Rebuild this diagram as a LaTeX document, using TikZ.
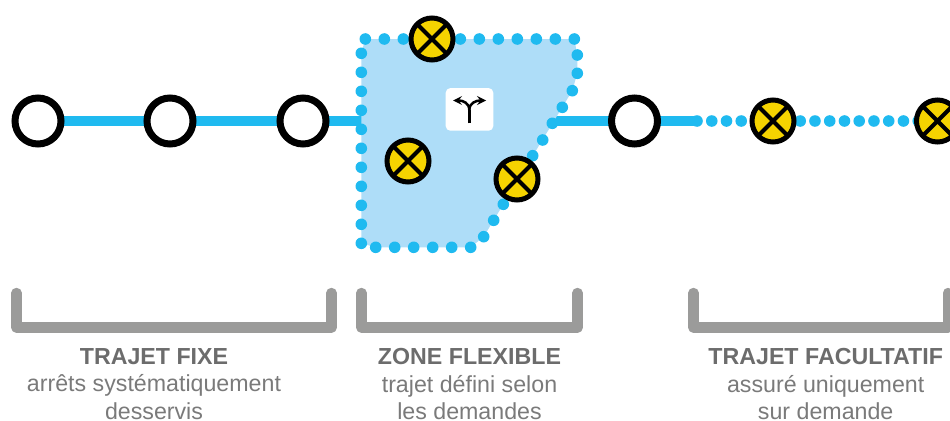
\documentclass[tikz,border=0pt]{standalone}
\usepackage{fontspec}
\setmainfont{Liberation Sans}
\usetikzlibrary{backgrounds}
\definecolor{routeblue}{RGB}{31,186,240}
\definecolor{zoneblue}{RGB}{174,221,248}
\definecolor{stopyellow}{RGB}{245,211,0}
\definecolor{bracketgrey}{RGB}{155,155,154}
\definecolor{headgrey}{RGB}{108,108,108}
\definecolor{textgrey}{RGB}{122,122,122}
\tikzset{
  plainstop/.style={circle,draw=black,fill=white,line width=5.25pt,minimum size=34.5pt,inner sep=0pt,outer sep=0pt},
  flexstop/.style={circle,draw=black,fill=stopyellow,line width=3.75pt,minimum size=31.5pt,inner sep=0pt,outer sep=0pt,
    path picture={\draw[black,line width=3pt] (path picture bounding box.south west) -- (path picture bounding box.north east) (path picture bounding box.north west) -- (path picture bounding box.south east);}},
  route/.style={routeblue,line width=7.5pt,line cap=round},
  dotroute/.style={routeblue,line width=8.7pt,line cap=round,dash pattern=on 0pt off 11.06pt},
  bracket/.style={bracketgrey,line width=7.8pt,line cap=round,line join=round},
  caption/.style={anchor=north,align=center,inner sep=0.75pt,text=textgrey,font=\fontsize{17.4}{20.7}\selectfont},
  turnbox/.style={fill=white,rounded corners=3.5pt,minimum width=35.7pt,minimum height=32pt,inner sep=0pt},
  turnarrow/.style={black,line width=1.9pt,-stealth}
}
\newcommand{\caphead}[1]{{\bfseries\color{headgrey}#1}}
\begin{document}
\begin{tikzpicture}[x=0.75pt,y=0.75pt,yscale=-1,xscale=1]
\useasboundingbox (0,0) rectangle (950,421);

% Stops
\node [plainstop] (stopA) at (38,121) {};
\node [plainstop] (stopB) at (170,121) {};
\node [plainstop] (stopC) at (303,121) {};
\node [plainstop] (stopD) at (634.5,121) {};
\node [flexstop] (stopE) at (773,121) {};
\node [flexstop] (stopF) at (937.5,121) {};
\node [flexstop] (zoneA) at (432,39) {};
\node [flexstop] (zoneB) at (408,161) {};
\node [flexstop] (zoneC) at (517,179) {};
\coordinate (zoneW) at (361,121);
\coordinate (zoneE) at (555,121);
\coordinate (routeEnd) at (697,121);

\begin{pgfonlayer}{background}
% Routes
\draw [route] (stopA.center) -- (stopB.center);
\draw [route] (stopB.center) -- (stopC.center);
\draw [route] (stopC.center) -- (zoneW);
\draw [route] (zoneE) -- (stopD.center);
\draw [route] (stopD.center) -- (routeEnd);
\draw [dotroute] (routeEnd) -- (stopE.center);
\draw [dotroute,dash phase=1.69pt] (stopE.center) -- (stopF.center);
%Shape: Zone
\fill [zoneblue] (365.3,39) -- (574.3,39) -- (577.3,55) -- (577.3,73.3) -- (572.3,90.7) -- (483.7,236.7) -- (470.7,247.3) -- (375.7,247.3) -- (361.3,243.3) -- (361.3,53.3) -- cycle;
\foreach \dotx in {365.3,384.3,...,574.5} \fill [routeblue] (\dotx,39) circle (5.8);
\foreach \doty in {53.3,72.3,...,243.5} \fill [routeblue] (361.3,\doty) circle (5.8);
\foreach \dotx in {375.7,394.7,...,470.9} \fill [routeblue] (\dotx,247.3) circle (5.8);
\foreach \dotx/\doty in {577.3/55,577.3/73.3,572.3/90.7,562.3/107.3,552.3/123.3,542.7/140,532.7/155.7,522.7/171.7,513/188.3,503.3/204.3,493.7/220.3,483.7/236.7} \fill [routeblue] (\dotx,\doty) circle (5.8);
\end{pgfonlayer}

% Icon
\node [turnbox] (turn) at (469.5,109.4) {};
\draw [black,line width=1.9pt] (469.3,123.3) -- (469.3,110);
\draw [turnarrow] (469.3,110) .. controls (469.3,103) and (463,100.5) .. (453,100.5);
\draw [turnarrow] (469.3,110) .. controls (469.3,103) and (476,100.5) .. (486,100.5);

%Shape: Brackets
\draw [bracket] (16.5,293) -- (16.5,327.5) -- (331.5,327.5) -- (331.5,293);
\draw [bracket] (361.5,293) -- (361.5,327.5) -- (577.5,327.5) -- (577.5,293);
\draw [bracket] (693.5,293) -- (693.5,327.5) -- (948,327.5) -- (948,293);

% Text Node
\node [caption] (capFixe) at (154,347) {\caphead{TRAJET FIXE}\\arrêts systématiquement\\desservis};
% Text Node
\node [caption] (capZone) at (469.5,347) {\caphead{ZONE FLEXIBLE}\\trajet défini selon\\les demandes};
% Text Node
\node [caption] (capFacul) at (825.7,347) {\caphead{TRAJET FACULTATIF}\\assuré uniquement\\sur demande};
\end{tikzpicture}
\end{document}
